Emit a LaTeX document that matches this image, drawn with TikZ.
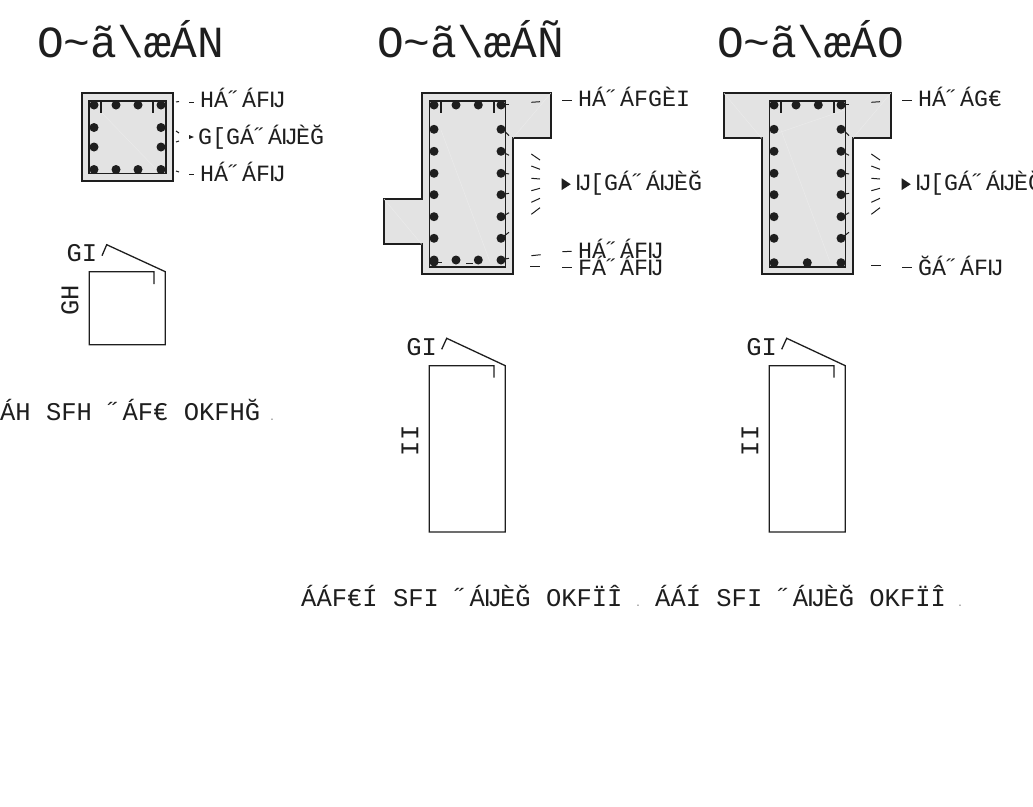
\documentclass[tikz,border=0pt]{standalone}
\usepackage{fontspec}
\usepackage{xcolor}
\usetikzlibrary{calc}
\setmonofont{Liberation Mono}
\definecolor{concrete}{HTML}{E3E3E3}
\definecolor{seam}{HTML}{EBEBEB}
\definecolor{inkcolor}{HTML}{1E1E1E}
\tikzstyle{outline} =[
    draw=inkcolor,
    fill=concrete,
    line width=2pt,
    line join=miter
    ]
\tikzstyle{stirrup} =[
    draw=inkcolor,
    line width=1.6pt
    ]
\tikzstyle{bentbar} =[
    draw=inkcolor,
    line width=1.3pt
    ]
\tikzstyle{tick} =[
    draw=inkcolor,
    line width=1pt
    ]
\tikzstyle{rebar} =[
    fill=inkcolor
    ]
\tikzstyle{sectiontitle} =[
    anchor=base west,
    inner sep=0pt,
    font=\ttfamily\fontsize{44.5}{44.5}\selectfont,
    text=inkcolor
    ]
\tikzstyle{steellabel} =[
    anchor=base west,
    inner sep=0pt,
    font=\ttfamily\fontsize{23.3}{23.3}\selectfont,
    text=inkcolor
    ]
\tikzstyle{sizelabel} =[
    anchor=base west,
    inner sep=0pt,
    font=\ttfamily\fontsize{25.5}{25.5}\selectfont,
    text=inkcolor
    ]
\tikzstyle{sizemark} =[
    inner sep=0pt,
    font=\ttfamily\fontsize{25.5}{25.5}\selectfont,
    text=inkcolor
    ]
\tikzstyle{stopmark} =[
    anchor=base,
    inner sep=0pt,
    font=\ttfamily\fontsize{10}{10}\selectfont,
    text=gray
    ]
\begin{document}
\begin{tikzpicture}[x=1pt,y=-1pt]
\useasboundingbox (0,0) rectangle (1033,806);

% section titles
\node[sectiontitle] (titleA) at (37,57) {O\textasciitilde ã\textbackslash æÁN};
\node[sectiontitle] (titleB) at (377,57) {O\textasciitilde ã\textbackslash æÁÑ};
\node[sectiontitle] (titleC) at (717,57) {O\textasciitilde ã\textbackslash æÁO};

% square column
\draw[outline] (82,93) rectangle (173,181);
\draw[seam,line width=.5pt] (101,112) -- (157,170);
\draw[stirrup] (89,100.7) rectangle (166,173.3);
\draw[stirrup] (101,100.7) -- (101,113);
\draw[stirrup] (153,100.7) -- (153,113);
\foreach \x in {94,116,138,161} {
    \fill[rebar] (\x,105) circle (4.5pt);
    \fill[rebar] (\x,169.5) circle (4.5pt);
}
\foreach \y in {127.5,147} {
    \fill[rebar] (94,\y) circle (4.5pt);
    \fill[rebar] (161,\y) circle (4.5pt);
}
\node[steellabel] (steelA) at (200,107.3) {HÁ˝ÁFĲ};
\node[steellabel] (stirrupA) at (198,144) {G[GÁ˝ÁĲÈĞ};
\node[steellabel] (steelB) at (200,181.5) {HÁ˝ÁFĲ};
\draw[tick] (176,102) -- (179,101.5);
\draw[tick] (189,102) -- (194,102);
\draw[tick] (176,131) -- (179,133);
\draw[tick] (176,142) -- (179,141);
\fill[inkcolor] (189,135) -- (194,137) -- (189,139) -- cycle;
\draw[tick] (176,171) -- (179,172);
\draw[tick] (189,174.5) -- (194,174.5);

% L-shaped column
\draw[outline] (421.7,93.3) -- (550.7,93.3) -- (550.7,138.3) -- (512.7,138.3) -- (512.7,274.3)
    -- (421.7,274.3) -- (421.7,244.3) -- (384,244.3) -- (384,199) -- (421.7,199) -- cycle;
\draw[seam,line width=.5pt] (384,199) -- (421.7,244.3);
\draw[seam,line width=.5pt] (512.7,138.3) -- (550.7,93.3);
\node[steellabel] (steelC) at (578,106.7) {HÁ˝ÁFGÈI};
\node[steellabel] (stirrupB) at (576,190.7) {Ĳ[GÁ˝ÁĲÈĞ};
\node[steellabel] (steelD) at (578,258.3) {HÁ˝ÁFĲ};
\node[steellabel] (steelE) at (578,275.7) {FÁ˝ÁFĲ};

% T-shaped column
\draw[outline] (724,93.3) -- (890.7,93.3) -- (890.7,138.3) -- (852.7,138.3) -- (852.7,274.3)
    -- (761.7,274.3) -- (761.7,138.3) -- (724,138.3) -- cycle;
\draw[seam,line width=.5pt] (724,93.3) -- (761.7,138.3);
\draw[seam,line width=.5pt] (852.7,138.3) -- (890.7,93.3);
\draw[seam,line width=.5pt] (775,134) -- (845,110);
\node[steellabel] (steelF) at (918,106.7) {HÁ˝ÁG€};
\node[steellabel] (stirrupC) at (916,190.7) {Ĳ[GÁ˝ÁĲÈĞ};
\node[steellabel] (steelG) at (918,275.7) {ĞÁ˝ÁFĲ};

% parts shared by both tall columns
\foreach \dx in {0,340} {
\begin{scope}[xshift=\dx pt]
\draw[seam,line width=.5pt] (441,130) -- (490,262);
\draw[stirrup] (429.3,101) rectangle (505.3,266.7);
\draw[stirrup] (441,101) -- (441,112.7);
\draw[stirrup] (494,101) -- (494,112.7);
\foreach \y in {105,129.3,151.3,173.3,194.7,216.7,238.3} {
    \fill[rebar] (434,\y) circle (4.5pt);
    \fill[rebar] (501,\y) circle (4.5pt);
}
\fill[rebar] (456,105) circle (4.5pt);
\fill[rebar] (478.3,105) circle (4.5pt);
\draw[tick] (505,104.3) -- (509,104.3);
\draw[tick] (505,131.7) -- (509,135.7);
\draw[tick] (505,153.3) -- (509,155.3);
\draw[tick] (505,173.3) -- (509,174);
\draw[tick] (505,194) -- (509,193.3);
\draw[tick] (505,215) -- (509,212.7);
\draw[tick] (503,236.7) -- (509,232.3);
\draw[tick] (531.3,102.3) -- (540,101.7);
\draw[tick] (531.3,154) -- (540,160);
\draw[tick] (531.3,166) -- (540,169.3);
\draw[tick] (531.3,178.3) -- (540,179);
\draw[tick] (531.3,190.7) -- (540,188.3);
\draw[tick] (531.3,202.3) -- (540,198.3);
\draw[tick] (531.3,214.3) -- (540,207.7);
\fill[inkcolor] (561.7,178.3) -- (570.7,184.3) -- (561.7,190) -- cycle;
\draw[tick] (562.3,100) -- (571.7,100);
% stirrup as bent
\draw[bentbar] (494,377.7) -- (494,365.7) -- (429.3,365.7) -- (429.3,532) -- (505.3,532) -- (505.3,365.7)
    -- (446.7,338.3) -- (441.7,349.3);
\end{scope}
}

% bottom row of the L-shaped column
\foreach \x in {456,478.3,501} {
    \fill[rebar] (\x,260) circle (4.5pt);
}
\fill[rebar] (434,260) circle (4.5pt);
\fill[rebar] (434,262) circle (4.5pt);
\draw[tick] (437,262.7) -- (442,262.7);
\draw[tick] (466,263.3) -- (473.3,263.3);
\draw[tick] (505,259) -- (509,258.3);
\draw[tick] (531.3,255.7) -- (540.7,254.7);
\draw[tick] (530,266.7) -- (540,266.7);
\draw[tick] (562.3,251.7) -- (571.7,251.3);
\draw[tick] (562.3,267.3) -- (571.7,267.3);

% bottom row of the T-shaped column
\foreach \x in {774,807.3,841} {
    \fill[rebar] (\x,262.7) circle (4.5pt);
}
\draw[tick] (871.3,265) -- (880.7,265);
\draw[tick] (902.3,267.3) -- (911.7,267.3);

% stirrup of the square column
\draw[bentbar] (154,284) -- (154,271.7) -- (89.3,271.7) -- (89.3,344.7) -- (165.3,344.7) -- (165.3,271.7)
    -- (106.7,244.7) -- (102,255.7);

% stirrup sizes
\node[sizemark] (hookA) at (82,252.7) {GI};
\node[sizemark,rotate=90] (sideA) at (70,300) {GH};
\node[sizemark] (hookB) at (421.7,346.7) {GI};
\node[sizemark,rotate=90] (sideB) at (410,440.7) {II};
\node[sizemark] (hookC) at (761.7,346.7) {GI};
\node[sizemark,rotate=90] (sideC) at (750,440.7) {II};

% lengths
\node[sizelabel] (lenA) at (0,420) {ÁH SFH ˝ÁF€ OKFHĞ};
\node[stopmark] (stopA) at (272,420) {.};
\node[sizelabel] (lenB) at (301,606) {ÁÁF€Í SFI ˝ÁĲÈĞ OKFÏÎ};
\node[stopmark] (stopB) at (638,606) {.};
\node[sizelabel] (lenC) at (655,606) {ÁÁÍ SFI ˝ÁĲÈĞ OKFÏÎ};
\node[stopmark] (stopC) at (960,606) {.};
\end{tikzpicture}
\end{document}
